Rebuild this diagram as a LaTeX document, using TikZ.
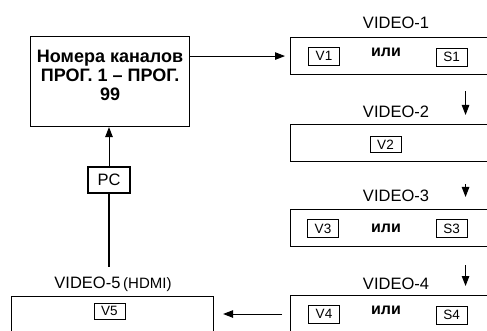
\documentclass[tikz,border=0pt]{standalone}
\usepackage{fontspec}
\setmainfont{Liberation Sans}
\usetikzlibrary{positioning,arrows.meta}

\begin{document}
\begin{tikzpicture}[x=1pt, y=-1pt,
	every node/.style={font=\fontsize{16.5}{18}\selectfont},
	frame/.style={draw, line width=1.1pt, minimum width=212pt, minimum height=37pt, anchor=north west, inner sep=0pt},
	tag/.style={draw, line width=0.9pt, font=\fontsize{13.5}{13.5}\selectfont, minimum width=31pt, minimum height=18pt, inner sep=0pt},
	orword/.style={font=\bfseries\fontsize{16}{16}\selectfont},
	arr/.style={line width=1pt, -{Triangle[length=10pt,width=7.5pt]}}]
	\clip (0,0) rectangle (487,331);
	% channel block
	\node[draw, line width=1.1pt, minimum width=159pt, minimum height=90pt, anchor=north west, align=center, inner sep=0pt, text depth=12pt, font=\bfseries\fontsize{18}{19}\selectfont] (main) at (30,36) {Номера каналов\\ПРОГ. 1 – ПРОГ.\\99};
	\node[draw, line width=1.1pt, minimum width=42pt, minimum height=26pt, inner sep=0pt] (pc) at (109,180) {PC};
	% inputs
	\node[frame] (vid1) at (290,37) {};
	\node[frame] (vid2) at (290,124) {};
	\node[frame] (vid3) at (290,209) {};
	\node[frame, minimum height=40pt] (vid4) at (290,295) {};
	\node[frame, minimum width=202pt, minimum height=40pt] (vid5) at (11,296) {};
	\node[anchor=base] (lbl1) at (396,29) {VIDEO-1};
	\node[anchor=base] (lbl2) at (396,118) {VIDEO-2};
	\node[anchor=base] (lbl3) at (396,201) {VIDEO-3};
	\node[anchor=base] (lbl4) at (396,289) {VIDEO-4};
	\node[anchor=base] (lbl5) at (113,288) {VIDEO-5\,{\fontsize{15}{15}\selectfont(HDMI)}};
	\node[tag] (v1) at (324,56) {V1};
	\node[orword] (or1) at (386,52) {или};
	\node[tag] (s1) at (451.5,57) {S1};
	\node[tag, minimum height=16pt] (v2) at (385.5,144.5) {V2};
	\node[tag] (v3) at (323,228.5) {V3};
	\node[orword] (or3) at (386,228) {или};
	\node[tag] (s3) at (451.5,228.5) {S3};
	\node[tag] (v4) at (324,314) {V4};
	\node[orword] (or4) at (386,310) {или};
	\node[tag] (s4) at (451.5,315) {S4};
	\node[tag, minimum height=16pt] (v5) at (109.5,311) {V5};
	% connections
	\draw[arr, shorten >=5pt] (main.east |- vid1.west) -- (vid1.west);
	\draw[arr, shorten <=16pt, shorten >=9pt] ([xshift=69pt]vid1.south) -- ([xshift=69pt]vid2.north);
	\draw[arr, shorten <=22pt, shorten >=12pt] ([xshift=69pt]vid2.south) -- ([xshift=69pt]vid3.north);
	\draw[arr, shorten <=18pt, shorten >=9pt] ([xshift=69pt]vid3.south) -- ([xshift=69pt]vid4.north);
	\draw[arr, shorten <=8pt, shorten >=9pt] (v4 -| vid4.west) -- (v4 -| vid5.east);
	\draw[line width=1.1pt, shorten >=6pt] (pc.south) -- (pc.south |- lbl5.north);
	\draw[arr] (pc.north) -- (pc.north |- main.south);
\end{tikzpicture}
\end{document}
